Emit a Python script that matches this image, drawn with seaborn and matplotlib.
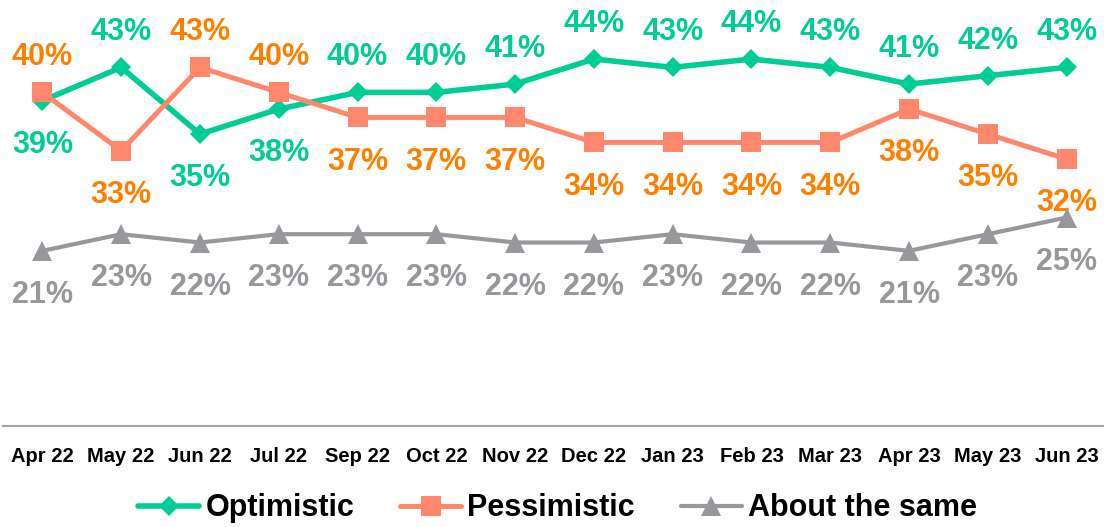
import numpy as np
import pandas as pd
import matplotlib.pyplot as plt
import seaborn as sns

months = ['Apr 22', 'May 22', 'Jun 22', 'Jul 22', 'Sep 22', 'Oct 22', 'Nov 22',
          'Dec 22', 'Jan 23', 'Feb 23', 'Mar 23', 'Apr 23', 'May 23', 'Jun 23']
optimistic = [39, 43, 35, 38, 40, 40, 41, 44, 43, 44, 43, 41, 42, 43]
pessimistic = [40, 33, 43, 40, 37, 37, 37, 34, 34, 34, 34, 38, 35, 32]
about_same = [21, 23, 22, 23, 23, 23, 22, 22, 23, 22, 22, 21, 23, 25]

sns.set_theme(style="white")
plt.rcParams['font.family'] = ['Liberation Sans', 'DejaVu Sans']
plt.rcParams['text.color'] = 'black'

fig = plt.figure(figsize=(11.04, 5.27), dpi=100)
ax = fig.add_axes([3 / 1104, 101 / 527, 1103 / 1104, 417 / 527])

x = np.arange(len(months))

# name, values, line colour, label colour, marker, size, width
series = [
    ('Optimistic', optimistic, '#00CC96', '#00CC96', 'D', 10, 4.0),
    ('Pessimistic', pessimistic, '#FF876B', '#FF8000', 's', 14, 3.6),
    ('About the same', about_same, '#98989C', '#98989C', '^', 14, 3.0),
]

for name, vals, col, lcol, mk, ms, lw in series:
    sns.lineplot(x=x, y=vals, ax=ax, color=col, marker=mk, markersize=ms,
                 linewidth=lw, markeredgewidth=0, label=name, sort=False)

# labels: above when the line is the higher of optimistic/pessimistic
for name, vals, col, lcol, mk, ms, lw in series:
    for i, v in enumerate(vals):
        if name == 'Optimistic':
            above = v > pessimistic[i]
        elif name == 'Pessimistic':
            above = v > optimistic[i]
        else:
            above = False
        off = 19.5 if above else -37.5
        ax.annotate(f"{v}%", (i, v), xytext=(0, off), textcoords='offset points',
                    ha='center', va='baseline', color=lcol, fontsize=22,
                    fontweight='bold')

ax.set_xlim(-0.5, len(months) - 0.5)
ax.set_ylim(0, 50)
ax.set_xticks(x)
ax.set_xticklabels(months, fontsize=14.5, fontweight='bold', color='black')
ax.set_yticks([])
ax.set_xlabel('')
ax.set_ylabel('')
ax.tick_params(axis='x', length=0, pad=15)
for s in ['top', 'left', 'right']:
    ax.spines[s].set_visible(False)
ax.spines['bottom'].set_color('#A6A6A6')
ax.spines['bottom'].set_linewidth(1.5)

handles, labels = ax.get_legend_handles_labels()
if ax.get_legend() is not None:
    ax.get_legend().remove()
fig.legend(handles, labels, loc='lower center', bbox_to_anchor=(0.505, -0.045),
           ncol=3, frameon=False, prop={'weight': 'bold', 'size': 22},
           labelcolor='black', handlelength=2.0, handletextpad=0.2,
           columnspacing=1.5)

fig.savefig('out.png', dpi=100)
